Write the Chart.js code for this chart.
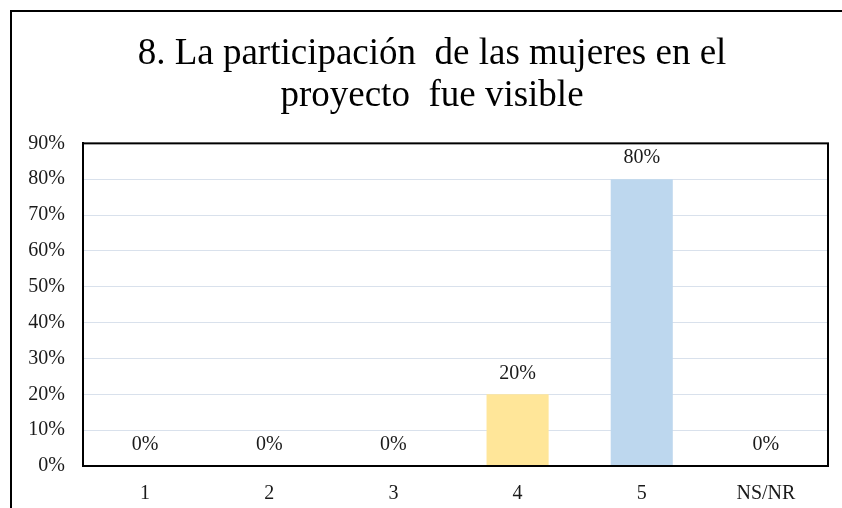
<!DOCTYPE html>
<html>
<head>
<meta charset="utf-8">
<script src="https://cdn.jsdelivr.net/npm/chart.js@4.4.0/dist/chart.umd.min.js"></script>
<style>
  html, body { margin: 0; padding: 0; background: #fff; overflow: hidden; }
  body { width: 842px; height: 508px; position: relative; }
  #marco { position: absolute; left: 10px; top: 10px; width: 900px; height: 600px; border: 2px solid #000; }
  #grafico { position: absolute; left: 0; top: 0; }
</style>
</head>
<body>
<div id="marco"></div>
<canvas id="grafico" width="864" height="540"></canvas>
<script>
// Dati del grafico
const categorie = ['1', '2', '3', '4', '5', 'NS/NR'];
const valori = [0, 0, 0, 20, 80, 0];
const colori = ['#FFE699', '#FFE699', '#FFE699', '#FFE699', '#BDD7EE', '#BDD7EE'];
const titolo = ['8. La participación  de las mujeres en el', 'proyecto  fue visible'];
const tickY = [0, 10, 20, 30, 40, 50, 60, 70, 80, 90];

const fontSerif = "'Liberation Serif', 'Times New Roman', serif";

// bordo nero attorno all'area del grafico + etichette sopra le barre
const pluginExtra = {
    id: 'extra',
    afterDatasetsDraw(chart) {
        const ctx = chart.ctx;
        const area = chart.chartArea;
        ctx.save();
        ctx.strokeStyle = '#000';
        ctx.lineWidth = 2;
        ctx.strokeRect(area.left, area.top, area.right - area.left, area.bottom - area.top);

        ctx.fillStyle = '#1a1a1a';
        ctx.font = '20px ' + fontSerif;
        ctx.textAlign = 'center';
        ctx.textBaseline = 'middle';
        const meta = chart.getDatasetMeta(0);
        meta.data.forEach(function(bar, i) {
            ctx.fillText(valori[i] + '%', bar.x, bar.y - 21);
        });
        ctx.restore();
    }
};

const ctx = document.getElementById('grafico').getContext('2d');
const chart = new Chart(ctx, {
    type: 'bar',
    data: {
        labels: categorie,
        datasets: [{
            data: valori,
            backgroundColor: colori,
            borderWidth: 0,
            barPercentage: 0.5,
            categoryPercentage: 1.0
        }]
    },
    options: {
        responsive: false,
        animation: false,
        devicePixelRatio: 1,
        layout: {
            padding: 0
        },
        plugins: {
            legend: { display: false },
            tooltip: { enabled: false },
            title: {
                display: true,
                text: titolo,
                color: '#000',
                font: { family: fontSerif, size: 37, weight: 'normal', lineHeight: 1.14 },
                padding: { top: 33, bottom: 26 }
            }
        },
        scales: {
            x: {
                grid: { display: false, drawTicks: false },
                border: { display: true, color: '#000', width: 2 },
                ticks: {
                    color: '#1a1a1a',
                    padding: 16,
                    font: { family: fontSerif, size: 20 }
                },
                afterFit(scale) { scale.height = 74; }
            },
            y: {
                min: 0,
                max: 90,
                afterBuildTicks(scale) { scale.ticks = tickY.map(v => ({ value: v })); },
                grid: { color: '#D9E1EC', lineWidth: 1, drawTicks: false },
                border: { display: true, color: '#000', width: 2 },
                ticks: {
                    color: '#1a1a1a',
                    padding: 18,
                    font: { family: fontSerif, size: 20 },
                    callback: function(v) { return v + '%'; }
                },
                afterFit(scale) { scale.width = 83; }
            },
            // asse vuoto a destra, solo per lo spazio
            y2: {
                position: 'right',
                min: 0,
                max: 90,
                grid: { display: false, drawTicks: false },
                border: { display: false },
                ticks: { display: false },
                afterFit(scale) { scale.width = 36; }
            }
        }
    },
    plugins: [pluginExtra]
});
</script>
</body>
</html>
